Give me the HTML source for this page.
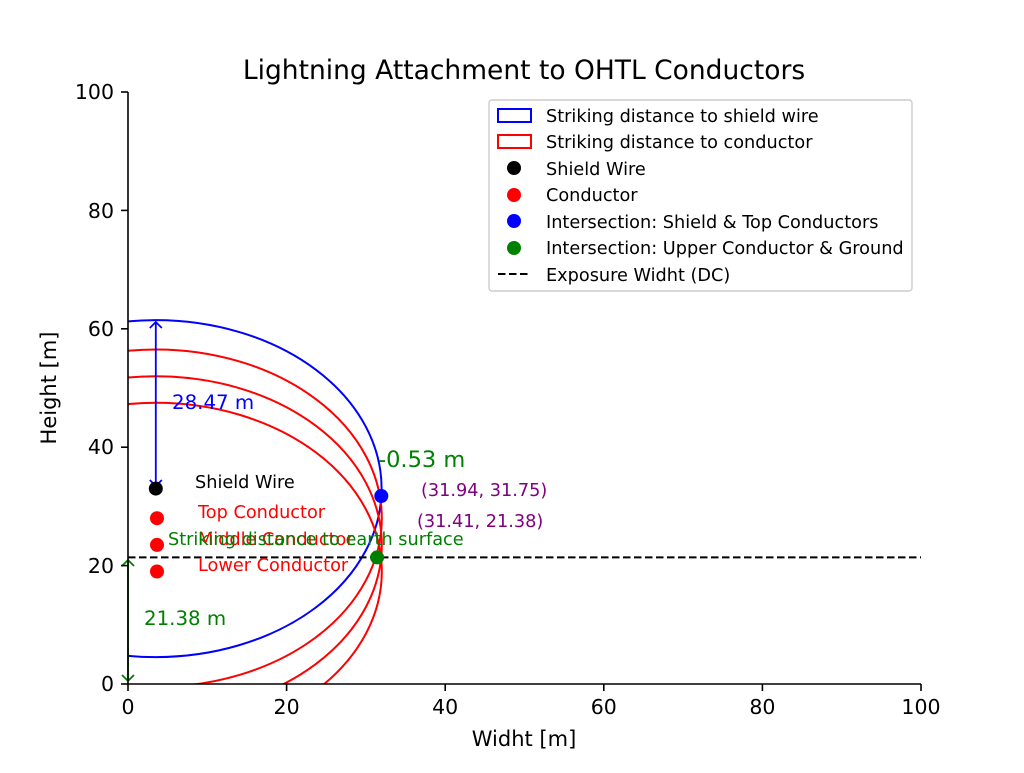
<!DOCTYPE html>
<html><head><meta charset="utf-8"><style>
body{margin:0;background:#fff}
svg text{font-family:"DejaVu Sans","Liberation Sans",sans-serif}
</style></head><body>
<svg width="1024" height="768" viewBox="0 0 1024 768" xmlns="http://www.w3.org/2000/svg">
<defs><clipPath id="c"><rect x="128" y="92" width="793" height="592"/></clipPath>
<marker id="ab" markerWidth="14" markerHeight="14" refX="7" refY="7" orient="auto-start-reverse" markerUnits="userSpaceOnUse"><path d="M1,1 L7,7 L1,13" fill="none" stroke="blue" stroke-width="1.8"/></marker>
<marker id="ag" markerWidth="14" markerHeight="14" refX="7" refY="7" orient="auto-start-reverse" markerUnits="userSpaceOnUse"><path d="M1,1 L7,7 L1,13" fill="none" stroke="green" stroke-width="1.8"/></marker>
</defs>
<text x="524" y="79" font-size="26.5" text-anchor="middle">Lightning Attachment to OHTL Conductors</text>
<g clip-path="url(#c)" fill="none" stroke-width="2">
<ellipse cx="155.8" cy="488.6" rx="225.8" ry="168.5" stroke="blue"/>
<ellipse cx="155.8" cy="518.2" rx="226" ry="168.7" stroke="red"/>
<ellipse cx="155.8" cy="544.9" rx="226" ry="168.7" stroke="red"/>
<ellipse cx="155.8" cy="571.5" rx="226" ry="168.7" stroke="red"/>
</g>
<line x1="128" y1="557.4" x2="921" y2="557.4" stroke="#000" stroke-width="2" stroke-dasharray="7.5,3.5"/>
<line x1="155.8" y1="322" x2="155.8" y2="486" stroke="blue" stroke-width="1.8" marker-start="url(#ab)" marker-end="url(#ab)"/>
<line x1="128" y1="560" x2="128" y2="681" stroke="green" stroke-width="1.8" marker-start="url(#ag)" marker-end="url(#ag)"/>
<circle cx="155.8" cy="488.6" r="7" fill="#000"/>
<circle cx="157" cy="518.2" r="7" fill="red"/>
<circle cx="157" cy="544.9" r="7" fill="red"/>
<circle cx="157" cy="571.5" r="7" fill="red"/>
<circle cx="381.3" cy="496" r="7" fill="blue"/>
<circle cx="377.1" cy="557.4" r="7" fill="green"/>
<g font-size="17.7">
<text x="195" y="488">Shield Wire</text>
<text x="198" y="518" fill="red">Top Conductor</text>
<text x="198" y="545" fill="red">Middle Conductor</text>
<text x="198" y="571" fill="red">Lower Conductor</text>
<text x="168" y="545" fill="green">Striking distance to earth surface</text>
<text x="172" y="409" fill="blue" font-size="19.8">28.47 m</text>
<text x="144" y="625" fill="green" font-size="19.8">21.38 m</text>
<text x="378" y="467" fill="green" font-size="22.5">-0.53 m</text>
<text x="421" y="496" fill="purple">(31.94, 31.75)</text>
<text x="417" y="527" fill="purple">(31.41, 21.38)</text>
</g>
<g stroke="#000" stroke-width="1.6">
<line x1="128" y1="92" x2="128" y2="684"/><line x1="128" y1="684" x2="921" y2="684"/>
<line x1="128" y1="684" x2="128" y2="691"/><line x1="286.6" y1="684" x2="286.6" y2="691"/><line x1="445.2" y1="684" x2="445.2" y2="691"/><line x1="603.8" y1="684" x2="603.8" y2="691"/><line x1="762.4" y1="684" x2="762.4" y2="691"/><line x1="921" y1="684" x2="921" y2="691"/>
<line x1="121" y1="684" x2="128" y2="684"/><line x1="121" y1="565.6" x2="128" y2="565.6"/><line x1="121" y1="447.2" x2="128" y2="447.2"/><line x1="121" y1="328.8" x2="128" y2="328.8"/><line x1="121" y1="210.4" x2="128" y2="210.4"/><line x1="121" y1="92" x2="128" y2="92"/>
</g>
<g font-size="20.5" text-anchor="middle">
<text x="128" y="714">0</text><text x="286.6" y="714">20</text><text x="445.2" y="714">40</text><text x="603.8" y="714">60</text><text x="762.4" y="714">80</text><text x="921" y="714">100</text>
</g>
<g font-size="20.5" text-anchor="end">
<text x="114" y="691">0</text><text x="114" y="573">20</text><text x="114" y="454">40</text><text x="114" y="336">60</text><text x="114" y="218">80</text><text x="114" y="99">100</text>
</g>
<text x="524" y="746" font-size="21" text-anchor="middle">Widht [m]</text>
<text transform="translate(56,388) rotate(-90)" font-size="21" text-anchor="middle">Height [m]</text>
<rect x="489" y="100" width="423" height="191" fill="#fff" stroke="#ccc" stroke-width="1.4" rx="3"/>
<g font-size="17.7">
<rect x="498" y="109" width="33" height="13" fill="none" stroke="blue" stroke-width="2"/><text x="546" y="122">Striking distance to shield wire</text>
<rect x="498" y="135" width="33" height="13" fill="none" stroke="red" stroke-width="2"/><text x="546" y="148">Striking distance to conductor</text>
<circle cx="514" cy="168" r="7" fill="#000"/><text x="546" y="175">Shield Wire</text>
<circle cx="514" cy="195" r="7" fill="red"/><text x="546" y="201">Conductor</text>
<circle cx="514" cy="221" r="7" fill="blue"/><text x="546" y="228">Intersection: Shield &amp; Top Conductors</text>
<circle cx="514" cy="248" r="7" fill="green"/><text x="546" y="254">Intersection: Upper Conductor &amp; Ground</text>
<line x1="498" y1="274" x2="531" y2="274" stroke="#000" stroke-width="2" stroke-dasharray="7.5,3.5"/><text x="546" y="281">Exposure Widht (DC)</text>
</g>
</svg>
</body></html>
